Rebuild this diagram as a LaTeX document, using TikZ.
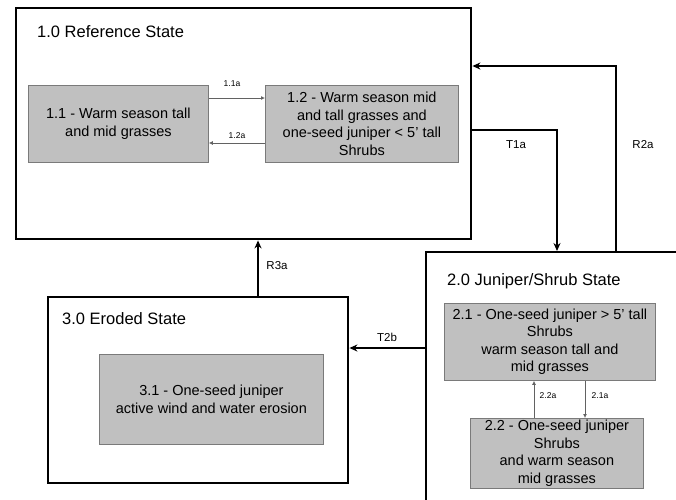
\documentclass[tikz,border=0pt]{standalone}
\usepackage{fontspec}
\setmainfont{Liberation Sans}
\usetikzlibrary{arrows.meta}
\definecolor{boxgray}{HTML}{C0C0C0}
\definecolor{edgegray}{HTML}{7A7A7A}
\tikzset{
  statebox/.style={draw=black, line width=2.4pt, fill=white, anchor=north west, inner sep=0pt},
  phasebox/.style={draw=edgegray, line width=0.8pt, fill=boxgray, anchor=north west, inner sep=0pt, align=center, font=\fontsize{14.5}{17.5}\selectfont},
  title/.style={anchor=base west, inner sep=0pt, font=\fontsize{16.5}{19}\selectfont},
  bigarrow/.style={draw=black, line width=1.5pt, -{Stealth[length=8pt,width=7pt]}},
  smallarrow/.style={draw=edgegray!80!black, line width=0.8pt, -{Latex[length=4pt,width=4pt]}},
  biglabel/.style={font=\fontsize{11.5}{13}\selectfont, inner sep=0pt},
  smalllabel/.style={font=\fontsize{8.5}{10}\selectfont, inner sep=0pt}
}
\begin{document}
\begin{tikzpicture}[x=1pt,y=-1pt]
\useasboundingbox (0,0) rectangle (676,499);
\clip (0,0) rectangle (676,499);
\fill[white] (0,0) rectangle (676,499);
% state boxes
\node[statebox, minimum width=455pt, minimum height=231pt] (s1) at (15,7) {};
\node[statebox, minimum width=280pt, minimum height=270pt] (s2) at (425,251) {};
\node[statebox, minimum width=300pt, minimum height=186pt] (s3) at (47,296) {};
% titles
\node[title] (t1) at (37,37) {1.0 Reference State};
\node[title] (t2) at (447,285) {2.0 Juniper/Shrub State};
\node[title] (t3) at (62,324) {3.0 Eroded State};
% phase boxes
\node[phasebox, minimum width=180pt, minimum height=77pt] (b11) at (28,85) {1.1 - Warm season tall\\and mid grasses};
\node[phasebox, minimum width=193pt, minimum height=77pt] (b12) at (265,85) {1.2 - Warm season mid\\and tall grasses and\\one-seed juniper < 5' tall\\Shrubs};
\node[phasebox, minimum width=211pt, minimum height=77pt] (b21) at (444,303) {2.1 - One-seed juniper > 5' tall\\Shrubs\\warm season tall and\\mid grasses};
\node[phasebox, minimum width=173pt, minimum height=70pt] (b22) at (470,418) {2.2 - One-seed juniper\\Shrubs\\and warm season\\mid grasses};
\node[phasebox, minimum width=224pt, minimum height=90pt] (b31) at (99,354) {3.1 - One-seed juniper\\active wind and water erosion};
% transitions between states
\draw[bigarrow] (s1.north east |- 0,130) -| (s2.north -| 557,0);
\draw[bigarrow] (s2.north -| 616,0) |- (s1.north east |- 0,66);
\draw[bigarrow] (s3.north -| 258,0) -- (s1.south -| 258,0);
\draw[bigarrow] (s2.west |- 0,348) -- (s3.east |- 0,348);
% community pathways
\draw[smallarrow] (b11.east |- 0,98) -- (b12.west |- 0,98);
\draw[smallarrow] (b12.west |- 0,143) -- (b11.east |- 0,143);
\draw[smallarrow] (b22.north -| 534,0) -- (b21.south -| 534,0);
\draw[smallarrow] (b21.south -| 585,0) -- (b22.north -| 585,0);
% labels
\node[smalllabel] (l11a) at (232,84) {1.1a};
\node[smalllabel] (l12a) at (237,136) {1.2a};
\node[biglabel] (lt1a) at (516,145) {T1a};
\node[biglabel] (lr2a) at (643,145) {R2a};
\node[biglabel] (lr3a) at (277,266) {R3a};
\node[biglabel] (lt2b) at (387,337) {T2b};
\node[smalllabel] (l22a) at (548,396) {2.2a};
\node[smalllabel] (l21a) at (600,396) {2.1a};
\end{tikzpicture}
\end{document}
